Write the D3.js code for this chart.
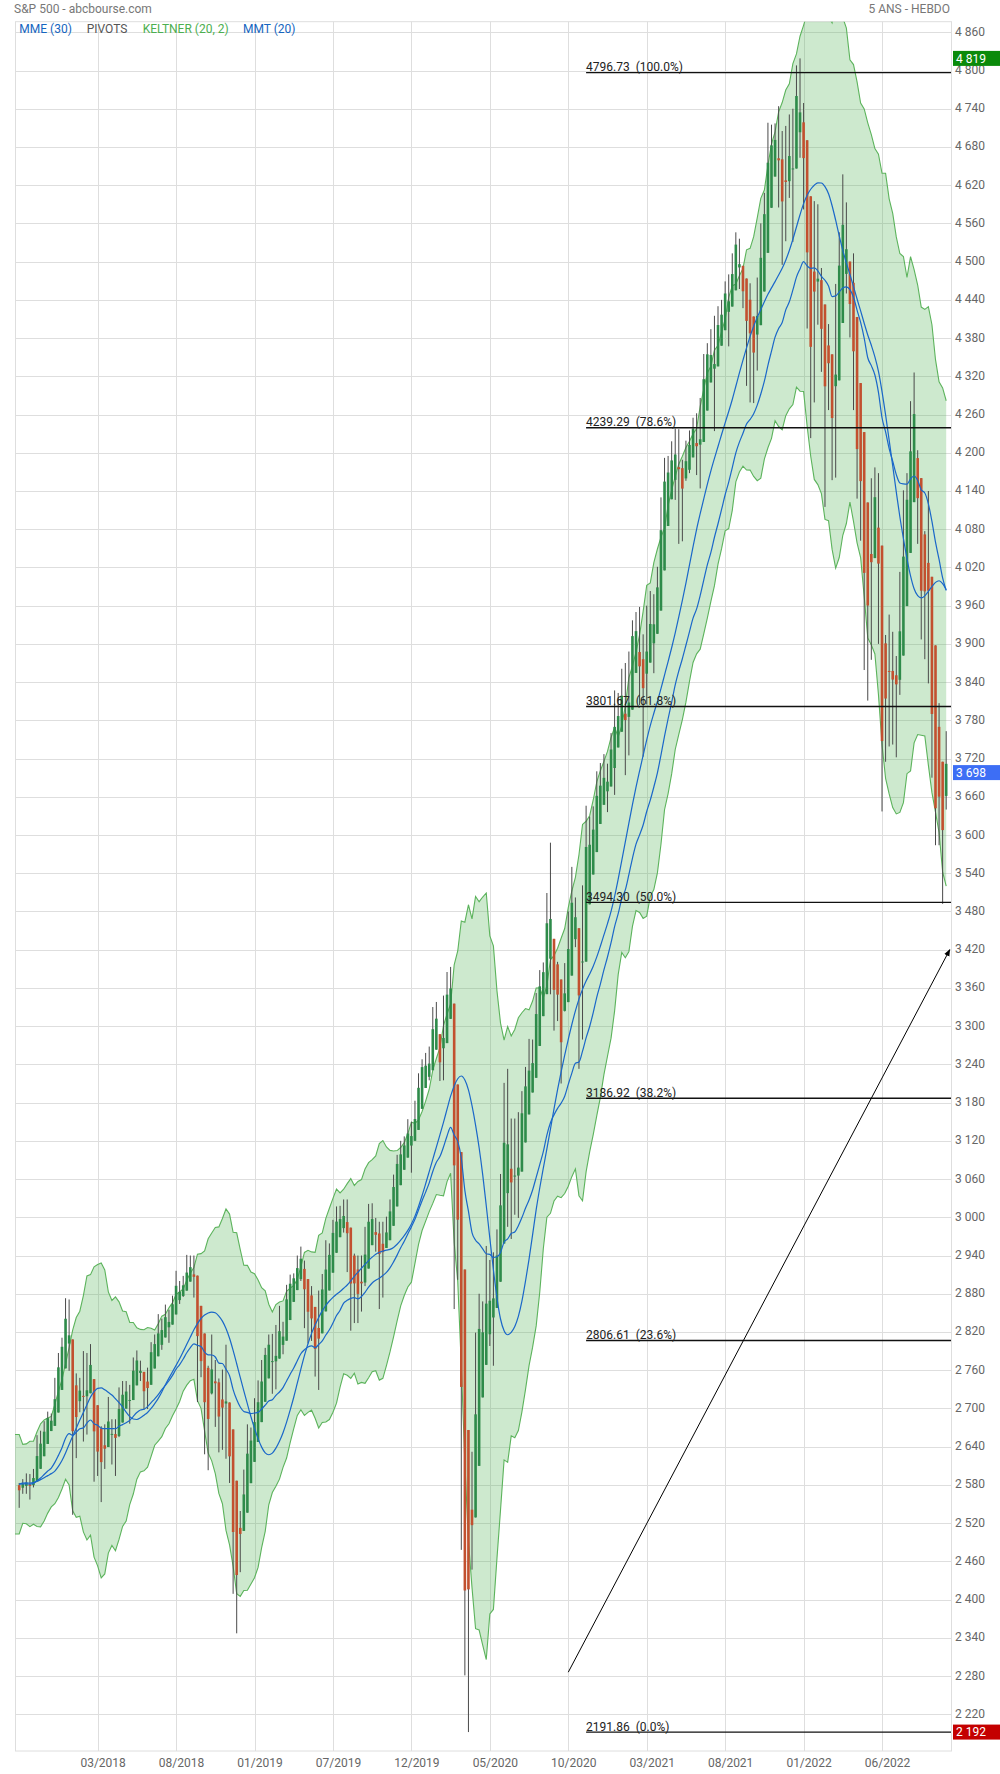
<!DOCTYPE html>
<html><head><meta charset="utf-8">
<script src="https://cdn.jsdelivr.net/npm/d3@7"></script>
<style>
html,body{margin:0;padding:0;background:#fff;}
svg{display:block;font-family:Roboto,"Noto Sans",sans-serif;}
.pre{white-space:pre;}
</style></head>
<body>
<svg id="chart" width="1000" height="1774"></svg>
<script>
// ---- Weekly S&P 500 data (raw weekly OHLC, week of 23 Oct 2017 .. week of 17 Oct 2022), drawn as Heikin-Ashi ----
const weekOpen = [
2578,2582,2588,2580,2580,2603,2657,2652,2685,2684,
2684,2748,2799,2809,2867,2741,2637,2723,2745,2681,
2779,2741,2619,2634,2611,2670,2675,2675,2680,2728,
2735,2705,2742,2780,2763,2743,2705,2775,2797,2805,
2819,2850,2835,2854,2876,2896,2885,2896,2930,2926,
2882,2763,2773,2641,2726,2775,2738,2649,2790,2630,
2591,2401,2498,2535,2588,2651,2660,2706,2712,2780,
2805,2814,2747,2823,2796,2849,2893,2906,2905,2940,
2909,2853,2841,2830,2751,2886,2886,2952,2964,2980,
3018,2978,3026,2898,2919,2898,2867,2910,2980,2996,
2983,2968,2944,2965,2996,3033,3078,3081,3123,3117,
3144,3141,3183,3229,3247,3217,3266,3333,3248,3235,
3318,3378,3257,2974,2863,2509,2290,2499,2578,2782,
2846,2854,2815,2915,2914,2993,3038,3199,3000,3094,
3018,3155,3189,3224,3218,3289,3356,3380,3419,3508,
3369,3370,3285,3336,3366,3500,3493,3441,3297,3583,
3600,3579,3653,3694,3675,3684,3723,3764,3803,3788,
3844,3732,3892,3939,3886,3842,3844,3943,3916,3974,
4034,4124,4183,4185,4192,4229,4169,4168,4216,4230,
4248,4174,4285,4356,4372,4296,4410,4406,4439,4462,
4450,4513,4532,4469,4402,4448,4348,4385,4471,4548,
4610,4701,4690,4712,4640,4543,4711,4588,4733,4778,
4656,4632,4357,4437,4483,4412,4332,4364,4328,4202,
4462,4541,4547,4474,4385,4255,4130,4081,4038,3920,
4161,4135,3839,3716,3920,3816,3880,3884,3966,4113,
4141,4270,4196,4041,3910,4083,3873,3682,3610,3644,
3746];
const weekHigh = [
2583,2589,2598,2597,2605,2658,2665,2680,2695,2692,
2748,2787,2811,2873,2871,2763,2755,2748,2790,2787,
2801,2742,2675,2672,2675,2718,2683,2683,2733,2743,
2743,2737,2780,2791,2775,2749,2764,2804,2816,2848,
2841,2863,2855,2877,2916,2900,2908,2941,2940,2940,
2895,2817,2779,2767,2816,2776,2747,2761,2800,2686,
2607,2520,2539,2604,2675,2670,2716,2744,2776,2795,
2816,2817,2831,2861,2836,2894,2910,2912,2940,2954,
2932,2892,2892,2841,2885,2911,2964,2959,2996,3017,
3018,3028,3028,2945,2943,2940,2940,2985,3021,3022,
2999,2993,2993,3001,3028,3067,3098,3120,3127,3154,
3150,3183,3226,3248,3258,3268,3330,3338,3285,3348,
3385,3393,3259,3137,2883,2562,2641,2632,2819,2880,
2868,2955,2933,2945,2981,3068,3211,3233,3155,3155,
3165,3198,3236,3280,3279,3352,3388,3400,3509,3588,
3425,3401,3306,3399,3480,3550,3502,3449,3521,3646,
3629,3645,3700,3713,3727,3712,3760,3827,3823,3861,
3870,3888,3937,3950,3958,3915,3960,3983,3978,4021,
4130,4192,4195,4218,4238,4237,4189,4219,4235,4255,
4262,4286,4355,4372,4394,4415,4430,4440,4469,4480,
4513,4546,4536,4485,4466,4466,4412,4475,4560,4608,
4718,4715,4717,4744,4705,4713,4731,4740,4808,4819,
4749,4633,4453,4595,4590,4490,4385,4402,4329,4465,
4546,4637,4593,4486,4513,4308,4307,4082,4091,4160,
4177,4168,3839,3914,3946,3919,3881,4013,4141,4168,
4281,4326,4204,4062,4077,4140,3904,3716,3807,3712,
3763];
const weekLow = [
2544,2566,2566,2557,2576,2598,2605,2646,2676,2673,
2683,2737,2767,2808,2759,2533,2622,2694,2648,2659,
2741,2585,2594,2553,2605,2660,2612,2594,2655,2702,
2707,2676,2736,2751,2743,2698,2699,2773,2789,2799,
2792,2827,2803,2848,2876,2864,2875,2886,2903,2874,
2710,2749,2628,2603,2722,2671,2631,2635,2621,2583,
2409,2347,2443,2525,2582,2612,2631,2681,2705,2768,
2775,2723,2730,2800,2785,2849,2873,2894,2896,2900,
2826,2802,2806,2750,2729,2863,2872,2911,2952,2962,
2976,2976,2914,2822,2834,2834,2852,2892,2964,2979,
2946,2856,2874,2953,2990,3023,3066,3074,3091,3114,
3070,3124,3183,3226,3212,3215,3255,3281,3214,3215,
3315,3328,2856,2902,2478,2281,2192,2447,2576,2762,
2727,2818,2798,2767,2910,2970,3025,2985,2966,3004,
2999,3115,3172,3201,3200,3284,3333,3362,3410,3350,
3293,3308,3210,3323,3361,3441,3424,3233,3279,3511,
3552,3572,3594,3640,3648,3636,3698,3663,3753,3785,
3694,3725,3885,3884,3804,3723,3805,3886,3854,3940,
4021,4118,4118,4168,4126,4057,4061,4156,4168,4219,
4165,4144,4270,4320,4321,4234,4367,4384,4424,4367,
4450,4513,4457,4427,4305,4279,4278,4329,4448,4537,
4595,4631,4659,4585,4495,4532,4600,4531,4733,4663,
4582,4395,4223,4279,4401,4327,4115,4267,4157,4161,
4424,4507,4450,4381,4267,4128,4062,3859,3811,3875,
4074,3900,3637,3715,3739,3742,3722,3820,3911,4079,
4107,4219,4057,3907,3876,3838,3690,3584,3584,3492,
3640];
const weekClose = [
2581,2588,2582,2579,2602,2642,2652,2676,2683,2674,
2743,2786,2810,2873,2762,2620,2732,2747,2691,2787,
2752,2588,2641,2604,2656,2670,2670,2663,2728,2713,
2721,2735,2779,2779,2755,2718,2760,2801,2802,2819,
2840,2833,2850,2875,2902,2872,2905,2930,2914,2886,
2767,2768,2659,2723,2781,2736,2633,2760,2633,2600,
2417,2486,2532,2596,2671,2665,2707,2708,2776,2793,
2804,2743,2822,2801,2834,2893,2907,2905,2940,2946,
2881,2860,2826,2752,2873,2887,2950,2942,2990,3014,
2977,3026,2932,2919,2889,2847,2926,2979,3007,2992,
2962,2952,2970,2986,3023,3067,3093,3120,3110,3141,
3146,3169,3221,3240,3235,3265,3330,3295,3226,3328,
3380,3338,2954,2972,2711,2305,2541,2489,2790,2875,
2837,2831,2930,2864,2955,3044,3194,3041,3098,3009,
3130,3185,3225,3216,3271,3351,3373,3397,3508,3427,
3341,3319,3298,3348,3477,3484,3465,3270,3509,3585,
3558,3638,3699,3663,3709,3703,3756,3825,3768,3841,
3714,3887,3935,3907,3811,3842,3943,3913,3975,4020,
4129,4185,4180,4181,4233,4174,4156,4204,4230,4247,
4166,4281,4352,4370,4327,4412,4395,4437,4468,4442,
4509,4535,4459,4433,4455,4357,4391,4471,4545,4605,
4698,4683,4698,4595,4538,4712,4621,4726,4766,4677,
4663,4398,4432,4501,4419,4349,4385,4329,4204,4463,
4543,4546,4488,4393,4272,4132,4123,4024,3901,4158,
4109,3901,3675,3912,3825,3899,3863,3962,4130,4145,
4280,4228,4058,3924,4067,3873,3693,3586,3640,3583,
3698];

// x-axis ticks: candle index and label
const tickIndex = [22,44,66,88,110,132,154,176,198,220,242];
const tickLabels = ["03/2018","08/2018","01/2019","07/2019","12/2019","05/2020","10/2020","03/2021","08/2021","01/2022","06/2022"];
const yTickValues = d3.range(2220, 4861, 60);

// Fibonacci retracement levels
const fibValues = [4796.73, 4239.29, 3801.67, 3494.30, 3186.92, 2806.61, 2191.86];
const fibPercents = ["100.0%","78.6%","61.8%","50.0%","38.2%","23.6%","0.0%"];
const fibStartIndex = 159;

// trend line drawn on the chart (candle index, price)
const trendIndex = [154, 261];
const trendPrice = [2286, 3420];

// price markers on the right axis
const markerValues = [4819, 3698, 2192];
const markerColors = ["#0a8a0a", "#3d6ef5", "#c40000"];

const legendItems = ["MME (30)", "PIVOTS", "KELTNER (20, 2)", "MMT (20)"];
const legendColors = ["#1565c0", "#555555", "#4caf50", "#1565c0"];

// ---------------- layout ----------------
const W = 1000, H = 1774;
const plot = {left: 15, right: 951, top: 21.7, bottom: 1751};
const svg = d3.select("#chart");
svg.append("rect").attr("width", W).attr("height", H).attr("fill", "#fff");

const N = weekClose.length;
const x = d3.scaleLinear().domain([0, 260]).range([19.2, 946.2]);
const y = d3.scaleLinear().domain([2162.3, 4876.6]).range([plot.bottom, plot.top]);

const loc = d3.formatLocale({decimal: ".", thousands: " ", grouping: [3], currency: ["", ""]});
const fmt = loc.format(",d");

// Heikin-Ashi candles
const ha = [];
for (let i = 0; i < N; i++) {
  const o = weekOpen[i], h = weekHigh[i], l = weekLow[i], c = weekClose[i];
  const hc = (o + h + l + c) / 4;
  const ho = i === 0 ? (o + c) / 2 : (ha[i-1].o + ha[i-1].c) / 2;
  ha.push({i, o: ho, c: hc, h: Math.max(h, ho, hc), l: Math.min(l, ho, hc)});
}

// indicators
function ema(arr, n) { const k = 2/(n+1); const out = []; arr.forEach((v,i)=>out.push(i===0 ? v : out[i-1] + k*(v-out[i-1]))); return out; }
function sma(arr, n) { return arr.map((v,i)=>d3.mean(arr.slice(Math.max(0,i-n+1), i+1))); }
const mme30 = ema(weekClose, 30);
const mmt20 = sma(sma(weekClose, 10), 11);
const tr = weekClose.map((c,i)=> i===0 ? weekHigh[i]-weekLow[i] :
  Math.max(weekHigh[i]-weekLow[i], Math.abs(weekHigh[i]-weekClose[i-1]), Math.abs(weekLow[i]-weekClose[i-1])));
const atr = sma(tr, 10);
const kMid = ema(weekClose, 20);
const kUp = kMid.map((m,i)=>m + 2*atr[i]);
const kLo = kMid.map((m,i)=>m - 2*atr[i]);

// ---------------- header ----------------
svg.append("text").attr("x", 14).attr("y", 13).attr("font-size", 12).attr("fill", "#777").text("S&P 500 - abcbourse.com");
svg.append("text").attr("x", 950).attr("y", 13).attr("text-anchor", "end").attr("font-size", 12).attr("fill", "#777").text("5 ANS - HEBDO");

// ---------------- grid ----------------
const grid = svg.append("g").attr("stroke", "#dedede").attr("stroke-width", 1);
grid.selectAll("line.h").data(yTickValues).join("line").attr("class","h")
  .attr("x1", plot.left).attr("x2", plot.right).attr("y1", d=>Math.round(y(d))+0.5).attr("y2", d=>Math.round(y(d))+0.5);
grid.selectAll("line.v").data(tickIndex).join("line").attr("class","v")
  .attr("y1", plot.top).attr("y2", plot.bottom).attr("x1", d=>Math.round(x(d))+0.5).attr("x2", d=>Math.round(x(d))+0.5);
svg.append("rect").attr("x", plot.left+0.5).attr("y", plot.top).attr("width", plot.right-plot.left).attr("height", plot.bottom-plot.top)
  .attr("fill", "none").attr("stroke", "#dedede");

// clip
svg.append("clipPath").attr("id","clip").append("rect")
  .attr("x", plot.left).attr("y", plot.top).attr("width", plot.right-plot.left).attr("height", plot.bottom-plot.top);
const g = svg.append("g").attr("clip-path","url(#clip)");

// ---------------- Keltner ----------------
const bandPts = [{xp: plot.left, u: kUp[0], l: kLo[0]}].concat(kUp.map((u,i)=>({xp: x(i), u, l: kLo[i]})));
g.append("path").datum(bandPts)
  .attr("d", d3.area().x(d=>d.xp).y0(d=>y(d.l)).y1(d=>y(d.u)))
  .attr("fill", "rgba(76,175,80,0.28)");
g.append("path").datum(bandPts).attr("d", d3.line().x(d=>d.xp).y(d=>y(d.u)))
  .attr("fill","none").attr("stroke","#5cb35c").attr("stroke-width",1.1);
g.append("path").datum(bandPts).attr("d", d3.line().x(d=>d.xp).y(d=>y(d.l)))
  .attr("fill","none").attr("stroke","#5cb35c").attr("stroke-width",1.1);

// ---------------- candles ----------------
const bw = 2.6;
g.append("g").selectAll("line").data(ha).join("line")
  .attr("x1", d=>x(d.i)).attr("x2", d=>x(d.i)).attr("y1", d=>y(d.h)).attr("y2", d=>y(d.l))
  .attr("stroke", "#4a4a4a").attr("stroke-width", 1);
g.append("g").selectAll("rect").data(ha).join("rect")
  .attr("x", d=>x(d.i)-bw/2).attr("width", bw)
  .attr("y", d=>y(Math.max(d.o,d.c))).attr("height", d=>Math.max(1, Math.abs(y(d.o)-y(d.c))))
  .attr("fill", d=> d.c >= d.o ? "#2e8b4a" : "#c2502f");

// ---------------- moving averages ----------------
const maLine = d3.line().x((d,i)=>x(i)).y(d=>y(d)).curve(d3.curveMonotoneX);
g.append("path").datum(mme30).attr("d", maLine).attr("fill","none").attr("stroke","#1a67c9").attr("stroke-width",1.2);
g.append("path").datum(mmt20).attr("d", maLine).attr("fill","none").attr("stroke","#1a67c9").attr("stroke-width",1.2);

// ---------------- Fibonacci ----------------
const fib = svg.append("g");
fibValues.forEach((v,k)=>{
  const yy = y(v);
  fib.append("line").attr("x1", x(fibStartIndex)).attr("x2", plot.right).attr("y1", yy).attr("y2", yy)
    .attr("stroke", "#111").attr("stroke-width", 1.4);
  fib.append("text").attr("class","pre").attr("x", x(fibStartIndex)).attr("y", yy-1.5)
    .attr("font-size", 12).attr("fill", "#222").text(v.toFixed(2) + "  (" + fibPercents[k] + ")");
});

// ---------------- trend line ----------------
svg.append("defs").append("marker").attr("id","arrow").attr("viewBox","0 0 10 10").attr("refX",9).attr("refY",5)
  .attr("markerWidth",7).attr("markerHeight",7).attr("orient","auto")
  .append("path").attr("d","M0,1 L10,5 L0,9 z").attr("fill","#000");
svg.append("line").attr("x1", x(trendIndex[0])).attr("y1", y(trendPrice[0]))
  .attr("x2", x(trendIndex[1])).attr("y2", y(trendPrice[1]))
  .attr("stroke","#000").attr("stroke-width",1).attr("marker-end","url(#arrow)");

// ---------------- axes ----------------
const yAxis = svg.append("g").attr("transform", `translate(${plot.right},0)`)
  .call(d3.axisRight(y).tickValues(yTickValues).tickSize(0).tickPadding(4).tickFormat(fmt));
yAxis.select(".domain").remove();
yAxis.selectAll("text").attr("font-size", 12).attr("fill", "#666").attr("font-family", "Roboto, sans-serif").attr("dy","0.25em");

const xAxis = svg.append("g").attr("transform", `translate(0,${plot.bottom})`)
  .call(d3.axisBottom(x).tickValues(tickIndex).tickSize(0).tickPadding(7).tickFormat((d,i)=>tickLabels[i]));
xAxis.select(".domain").remove();
xAxis.selectAll("text").attr("font-size", 12).attr("fill", "#666").attr("font-family", "Roboto, sans-serif").attr("dx", 5);

// price markers
markerValues.forEach((v,k)=>{
  const yy = y(v);
  svg.append("rect").attr("x", 953).attr("y", yy-7.5).attr("width", 47).attr("height", 15).attr("fill", markerColors[k]);
  svg.append("text").attr("x", 956).attr("y", yy).attr("dy","0.35em").attr("font-size", 12).attr("fill","#fff").text(fmt(v));
});

// legend
const legendX = [19.3, 86.7, 142.7, 243];
legendItems.forEach((t,k)=>{
  svg.append("text").attr("x", legendX[k]).attr("y", 33).attr("font-size", 12).attr("fill", legendColors[k]).text(t);
});
</script>
</body></html>
